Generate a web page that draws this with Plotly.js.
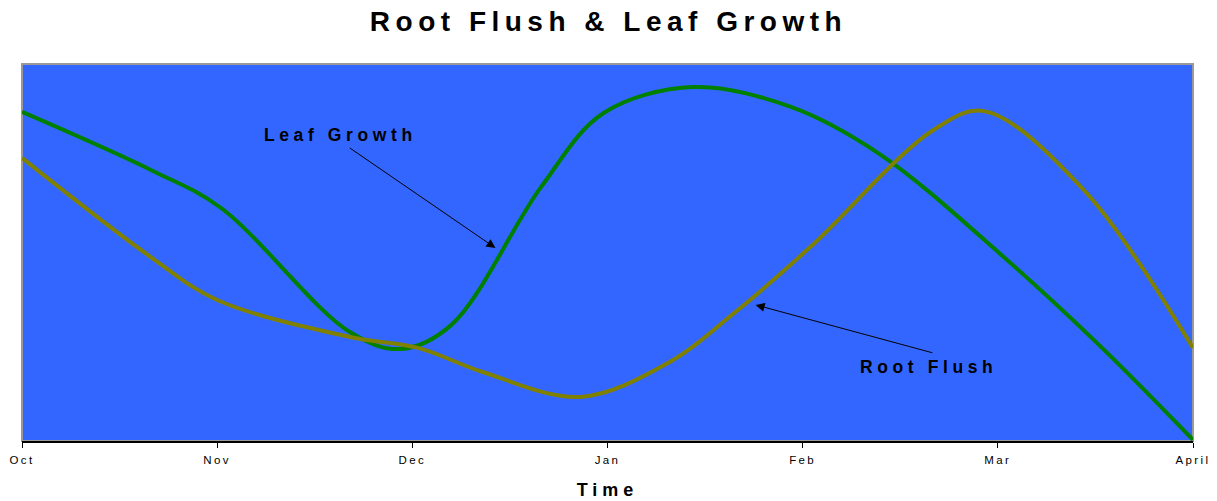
<!DOCTYPE html>
<html>
<head>
<meta charset="utf-8">
<script src="https://cdn.plot.ly/plotly-3.0.1.min.js"></script>
<style>
  html, body { margin: 0; padding: 0; background: #fff; }
  #chart { width: 1217px; height: 501px; }
  .gtitle { letter-spacing: 5.5px; }
  .xtick text { letter-spacing: 2.4px; }
  .annotation-text { letter-spacing: 4.6px; }
  .g-xtitle text { letter-spacing: 5px; }
</style>
</head>
<body>
<div id="chart"></div>
<script>
// Month tick labels (x positions 0..6)
const monthLabels = ['Oct', 'Nov', 'Dec', 'Jan', 'Feb', 'Mar', 'April'];
const monthTicks = [0, 1, 2, 3, 4, 5, 6];

// Leaf Growth series
const leafX = [0, 0.66, 1.02, 1.68, 1.94, 2.20, 2.66, 2.98, 3.44, 3.94, 4.40, 5.03, 5.53, 6];
const leafY = [87.3, 71.9, 61.8, 28.9, 24.4, 30.8, 67.4, 87.0, 93.9, 88.6, 75.9, 48.8, 24.9, 0.3];

// Root Flush series
const rootX = [0, 0.66, 1.0, 1.68, 2.03, 2.36, 2.86, 3.31, 3.65, 4.04, 4.67, 4.93, 5.44, 6];
const rootY = [75.1, 48.8, 37.4, 27.6, 24.7, 18.3, 11.7, 20.7, 34.0, 51.5, 82.5, 87.5, 66.6, 24.7];

const FONT = 'Liberation Sans, Arial, Helvetica, sans-serif';

const traces = [
  {
    x: leafX, y: leafY, name: 'Leaf Growth', type: 'scatter', mode: 'lines',
    line: { color: '#008000', width: 4, shape: 'spline', smoothing: 1 },
    hoverinfo: 'skip'
  },
  {
    x: rootX, y: rootY, name: 'Root Flush', type: 'scatter', mode: 'lines',
    line: { color: '#808000', width: 4, shape: 'spline', smoothing: 1 },
    hoverinfo: 'skip'
  }
];

const layout = {
  width: 1217, height: 501,
  margin: { l: 22, r: 24, t: 64, b: 60, pad: 0 },
  paper_bgcolor: '#ffffff',
  plot_bgcolor: '#3366ff',
  showlegend: false,
  font: { family: FONT, color: '#000' },
  title: {
    text: 'Root Flush & Leaf Growth',
    font: { family: FONT, size: 28, weight: 'bold', color: '#000' },
    x: 0.5, xanchor: 'center',
    y: 1 - 21 / 501, yref: 'container', yanchor: 'middle'
  },
  xaxis: {
    range: [0, 6],
    tickvals: monthTicks, ticktext: monthLabels,
    showgrid: false, zeroline: false,
    showline: true, linecolor: '#000', linewidth: 1.5,
    ticks: 'outside', ticklen: 5, tickcolor: '#000', tickwidth: 1,
    tickfont: { family: FONT, size: 11.5, color: '#000' },
    ticklabelstandoff: 3,
    title: { text: 'Time', font: { family: FONT, size: 18, weight: 'bold', color: '#000' }, standoff: 18 },
    fixedrange: true
  },
  yaxis: {
    range: [0, 100],
    showgrid: false, zeroline: false, showline: false,
    showticklabels: false, ticks: '',
    fixedrange: true
  },
  shapes: [
    { type: 'rect', xref: 'paper', yref: 'paper', x0: 0, x1: 1, y0: 0, y1: 1,
      line: { color: '#999999', width: 2 }, fillcolor: 'rgba(0,0,0,0)', layer: 'below' }
  ],
  annotations: [
    { x: 1.631, y: 81.2, xref: 'x', yref: 'y', text: 'Leaf Growth', showarrow: false,
      font: { family: FONT, size: 17.5, weight: 'bold', color: '#000' }, xanchor: 'center', yanchor: 'middle' },
    { x: 4.646, y: 19.6, xref: 'x', yref: 'y', text: 'Root Flush', showarrow: false,
      font: { family: FONT, size: 17.5, weight: 'bold', color: '#000' }, xanchor: 'center', yanchor: 'middle' },
    { x: 2.426, y: 51.2, xref: 'x', yref: 'y', ax: 1.672, ay: 78.0, axref: 'x', ayref: 'y',
      text: '', showarrow: true, arrowhead: 2, arrowsize: 1.8, arrowwidth: 1, arrowcolor: '#000',
      standoff: 0, startstandoff: 0 },
    { x: 3.759, y: 36.1, xref: 'x', yref: 'y', ax: 4.672, ay: 23.3, axref: 'x', ayref: 'y',
      text: '', showarrow: true, arrowhead: 2, arrowsize: 1.8, arrowwidth: 1, arrowcolor: '#000',
      standoff: 0, startstandoff: 0 }
  ]
};

Plotly.newPlot('chart', traces, layout, { staticPlot: true, displayModeBar: false });
</script>
</body>
</html>
